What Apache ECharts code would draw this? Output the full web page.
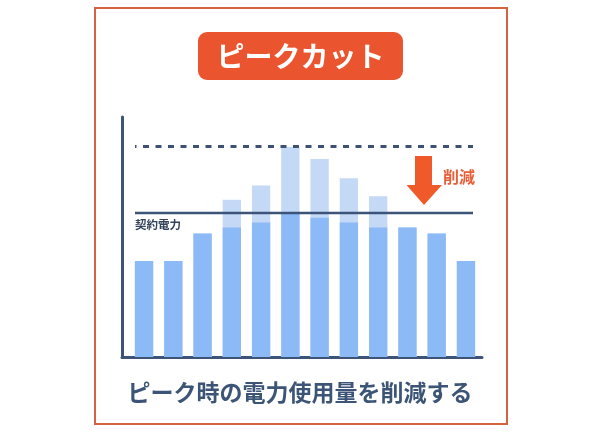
<!DOCTYPE html>
<html>
<head>
<meta charset="utf-8">
<script src="https://cdn.jsdelivr.net/npm/echarts@6/dist/echarts.min.js"></script>
<style>
html,body{margin:0;padding:0;background:#fff;}
#main{width:600px;height:433px;}
</style>
</head>
<body>
<div id="main"></div>
<script>
// ---- data ----
var categories = ['1','2','3','4','5','6','7','8','9','10','11','12'];
var peakValues = [40, 40, 51.5, 65.5, 71.5, 87.5, 82.5, 74.5, 67, 54, 51.5, 40];
var cutValues  = [40, 40, 51.5, 54, 56, 60, 58, 56, 54, 54, 51.5, 40];
var contractLevel = 60;
var peakLevel = 88;
var titleText = 'ピークカット';
var subText = 'ピーク時の電力使用量を削減する';
var contractLabel = '契約電力';
var cutLabel = '削減';

var FONT = '"Noto Sans CJK JP", "Noto Sans", sans-serif';
var NAVY = '#3b5478';
var ORANGE = '#ea5530';

var chart = echarts.init(document.getElementById('main'), null, {renderer: 'canvas'});
var lineLeft = 135, lineRight = 473;

chart.setOption({
  animation: false,
  backgroundColor: '#ffffff',
  textStyle: {fontFamily: FONT},
  grid: [
    {left: 122, right: 118, top: 117, bottom: 76},
    {left: 129.4, right: 119.4, top: 117, bottom: 76}
  ],
  xAxis: [
    {gridIndex: 0, type: 'category', data: categories,
     axisLine: {show: true, lineStyle: {color: NAVY, width: 3, cap: 'round'}},
     axisTick: {show: false}, axisLabel: {show: false}, splitLine: {show: false}},
    {gridIndex: 1, type: 'category', data: categories, show: false}
  ],
  yAxis: [
    {gridIndex: 0, type: 'value', min: 0, max: 100,
     axisLine: {show: true, lineStyle: {color: NAVY, width: 3, cap: 'round'}},
     axisTick: {show: false}, axisLabel: {show: false}, splitLine: {show: false}},
    {gridIndex: 1, type: 'value', min: 0, max: 100, show: false}
  ],
  series: [
    {
      name: 'ピーク時', type: 'bar', xAxisIndex: 1, yAxisIndex: 1,
      data: peakValues, barWidth: 18.3, barGap: '-100%',
      itemStyle: {color: '#c4d9f5'}, silent: true
    },
    {
      name: 'カット後', type: 'bar', xAxisIndex: 1, yAxisIndex: 1,
      data: cutValues, barWidth: 18.3, barGap: '-100%',
      itemStyle: {color: '#8cbaf7'}, silent: true,
      markLine: {
        silent: true, symbol: 'none', animation: false,
        data: [
          [
            {yAxis: peakLevel, x: lineLeft,
             lineStyle: {type: [6, 6.5], dashOffset: 4.5, width: 2.8, color: '#3d5273'}, label: {show: false}},
            {yAxis: peakLevel, x: lineRight}
          ],
          [
            {yAxis: contractLevel, x: lineLeft,
             lineStyle: {type: 'solid', width: 2.4, color: NAVY},
             label: {show: true, position: 'insideStartBottom', formatter: contractLabel,
                     color: '#34435c', fontSize: 11.5, fontWeight: 'bold', fontFamily: FONT, distance: [0, 6]}},
            {yAxis: contractLevel, x: lineRight}
          ]
        ]
      }
    }
  ],
  graphic: [
    {type: 'rect', shape: {x: 95, y: 8, width: 412, height: 416},
     style: {fill: 'none', stroke: '#d6633f', lineWidth: 2}, z: 10},
    {type: 'rect', shape: {x: 198, y: 32, width: 205, height: 48, r: 9},
     style: {fill: ORANGE}, z: 10},
    {type: 'text', x: 300.5, y: 56,
     style: {text: titleText, fill: '#ffffff', fontSize: 28, fontWeight: 'bold', fontFamily: FONT,
             align: 'center', verticalAlign: 'middle'}, z: 11},
    {type: 'polygon',
     shape: {points: [[415,156],[432,156],[432,185],[442,185],[424,205],[406.5,185],[415,185]]},
     style: {fill: '#f05a2a'}, z: 10},
    {type: 'text', x: 443, y: 177,
     style: {text: cutLabel, fill: '#e8603a', fontSize: 16, fontWeight: 'bold', fontFamily: FONT,
             align: 'left', verticalAlign: 'middle'}, z: 11},
    {type: 'text', x: 300, y: 392,
     style: {text: subText, fill: '#3c5577', fontSize: 23, fontWeight: 'bold', fontFamily: FONT,
             align: 'center', verticalAlign: 'middle'}, z: 11}
  ]
});
</script>
</body>
</html>
